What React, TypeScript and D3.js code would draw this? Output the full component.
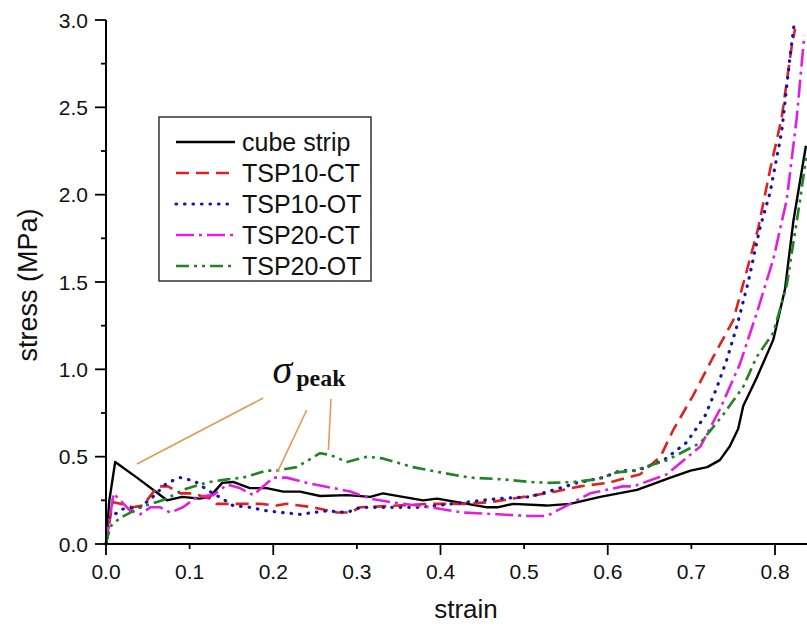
import React from "react";
import * as d3 from "d3";

type Pt = [number, number];

const cubeStrip: Pt[] = [[0,0],[0.004,0.25],[0.011,0.47],[0.037,0.38],[0.073,0.25],[0.091,0.27],[0.112,0.26],[0.124,0.27],[0.139,0.35],[0.152,0.355],[0.172,0.32],[0.192,0.32],[0.212,0.30],[0.232,0.30],[0.256,0.275],[0.288,0.28],[0.316,0.27],[0.331,0.29],[0.379,0.25],[0.396,0.26],[0.456,0.21],[0.468,0.21],[0.487,0.23],[0.527,0.22],[0.555,0.23],[0.591,0.27],[0.635,0.31],[0.675,0.38],[0.699,0.42],[0.719,0.44],[0.734,0.48],[0.746,0.56],[0.756,0.66],[0.762,0.79],[0.778,0.95],[0.798,1.17],[0.812,1.46],[0.822,1.85],[0.837,2.28]];

const tsp10CT: Pt[] = [[0,0],[0.008,0.24],[0.017,0.23],[0.032,0.21],[0.044,0.22],[0.062,0.33],[0.074,0.33],[0.089,0.29],[0.104,0.29],[0.124,0.26],[0.132,0.23],[0.152,0.23],[0.184,0.23],[0.204,0.22],[0.216,0.23],[0.248,0.21],[0.276,0.18],[0.292,0.18],[0.304,0.21],[0.348,0.22],[0.388,0.23],[0.432,0.23],[0.459,0.24],[0.487,0.26],[0.527,0.29],[0.567,0.33],[0.600,0.35],[0.639,0.40],[0.663,0.50],[0.678,0.65],[0.702,0.85],[0.726,1.07],[0.750,1.28],[0.766,1.56],[0.780,1.81],[0.794,2.14],[0.808,2.44],[0.820,2.85],[0.824,2.95]];

const tsp10OT: Pt[] = [[0,0],[0.004,0.15],[0.02,0.2],[0.041,0.21],[0.056,0.27],[0.073,0.35],[0.089,0.38],[0.106,0.36],[0.121,0.31],[0.139,0.26],[0.152,0.22],[0.172,0.21],[0.192,0.19],[0.210,0.18],[0.232,0.17],[0.264,0.19],[0.288,0.18],[0.304,0.21],[0.340,0.21],[0.376,0.21],[0.396,0.22],[0.432,0.24],[0.468,0.26],[0.507,0.27],[0.543,0.32],[0.563,0.35],[0.594,0.38],[0.615,0.42],[0.635,0.42],[0.667,0.48],[0.694,0.58],[0.716,0.73],[0.730,0.89],[0.742,1.05],[0.754,1.24],[0.768,1.50],[0.782,1.81],[0.794,2.01],[0.808,2.36],[0.818,2.79],[0.823,2.98]];

const tsp20CT: Pt[] = [[0,0],[0.009,0.29],[0.029,0.19],[0.041,0.17],[0.053,0.21],[0.065,0.21],[0.077,0.18],[0.092,0.21],[0.109,0.27],[0.128,0.28],[0.145,0.34],[0.160,0.32],[0.176,0.28],[0.200,0.38],[0.216,0.38],[0.240,0.35],[0.272,0.32],[0.292,0.30],[0.316,0.26],[0.340,0.24],[0.388,0.21],[0.427,0.18],[0.468,0.17],[0.507,0.16],[0.527,0.16],[0.547,0.21],[0.579,0.29],[0.618,0.33],[0.631,0.33],[0.671,0.40],[0.711,0.56],[0.734,0.77],[0.758,1.03],[0.778,1.32],[0.798,1.63],[0.814,1.97],[0.826,2.44],[0.835,2.91]];

const tsp20OT: Pt[] = [[0,0],[0.005,0.10],[0.017,0.15],[0.029,0.18],[0.041,0.21],[0.061,0.24],[0.073,0.26],[0.092,0.31],[0.112,0.34],[0.124,0.355],[0.145,0.37],[0.164,0.38],[0.192,0.42],[0.204,0.42],[0.228,0.44],[0.256,0.52],[0.268,0.51],[0.288,0.47],[0.312,0.50],[0.331,0.49],[0.367,0.44],[0.400,0.41],[0.435,0.38],[0.475,0.37],[0.507,0.355],[0.531,0.35],[0.559,0.355],[0.587,0.37],[0.611,0.41],[0.631,0.42],[0.671,0.48],[0.711,0.58],[0.738,0.74],[0.762,0.90],[0.778,1.07],[0.798,1.21],[0.814,1.48],[0.830,1.97],[0.838,2.24]];

const seriesNames = ["cube strip", "TSP10-CT", "TSP10-OT", "TSP20-CT", "TSP20-OT"];
const xTickLabels = ["0.0", "0.1", "0.2", "0.3", "0.4", "0.5", "0.6", "0.7", "0.8"];
const yTickLabels = ["0.0", "0.5", "1.0", "1.5", "2.0", "2.5", "3.0"];

// annotation leader lines in data units [x1,y1,x2,y2]
const peakLeaders: [number, number, number, number][] = [
  [0.188, 0.836, 0.037, 0.458],
  [0.240, 0.767, 0.205, 0.412],
  [0.269, 0.830, 0.266, 0.538],
];
const peakLabelAt: Pt = [0.199, 0.92];

const styles = [
  { color: "#000000", dash: "none", cap: "butt", w: 2.4 },
  { color: "#E3201E", dash: "13,7", cap: "butt", w: 2.6 },
  { color: "#1414B4", dash: "0.5,8", cap: "round", w: 3.2 },
  { color: "#E21FE0", dash: "18,5,3,5", cap: "butt", w: 2.6 },
  { color: "#218321", dash: "13,5,3,5,3,5", cap: "butt", w: 2.6 },
];

export default function App() {
  const W = 807, H = 631;
  const x = d3.scaleLinear().domain([0, 0.8]).range([106, 775]);
  const y = d3.scaleLinear().domain([0, 3]).range([544, 20]);
  const line = d3.line<Pt>().x(d => x(d[0])).y(d => y(d[1]));
  const data = [cubeStrip, tsp10CT, tsp10OT, tsp20CT, tsp20OT];
  const font = "'Liberation Sans', Arial, sans-serif";

  const xMinor = d3.range(0, 9).map(i => i / 10);
  const yMinor = d3.range(0, 13).map(i => i * 0.25);

  return (
    <svg width={W} height={H} style={{ position: "absolute", left: 0, top: 0, background: "#fff" }}>
      <rect width={W} height={H} fill="#fff" />
      {data.map((d, i) => (
        <path key={i} d={line(d) || ""} fill="none" stroke={styles[i].color}
          strokeWidth={styles[i].w} strokeDasharray={styles[i].dash}
          strokeLinecap={styles[i].cap as any} strokeLinejoin="round" />
      ))}
      <line x1={x(0)} y1={y(0)} x2={W} y2={y(0)} stroke="#000" strokeWidth={2} />
      <line x1={x(0)} y1={y(0) + 1} x2={x(0)} y2={y(3)} stroke="#000" strokeWidth={2} />
      {xMinor.map((v, i) => (
        <line key={"xt" + i} x1={x(v)} x2={x(v)} y1={y(0)} y2={y(0) + (i % 2 === 0 ? 11 : 5)} stroke="#000" strokeWidth={1.8} />
      ))}
      {yMinor.map((v, i) => (
        <line key={"yt" + i} x1={x(0)} x2={x(0) - (i % 2 === 0 ? 11 : 5)} y1={y(v)} y2={y(v)} stroke="#000" strokeWidth={1.8} />
      ))}
      {xTickLabels.map((t, i) => (
        <text key={"xl" + i} x={x(+t)} y={579} textAnchor="middle" fontFamily={font} fontSize={21} fill="#111">{t}</text>
      ))}
      {yTickLabels.map((t, i) => (
        <text key={"yl" + i} x={88} y={y(+t)} dy="0.36em" textAnchor="end" fontFamily={font} fontSize={21} fill="#111">{t}</text>
      ))}
      <text x={466} y={618} textAnchor="middle" fontFamily={font} fontSize={26} fill="#111">strain</text>
      <text transform={`translate(37,${285}) rotate(-90)`} textAnchor="middle" fontFamily={font} fontSize={27} fill="#111">stress (MPa)</text>

      <rect x={159} y={117} width={212} height={164} fill="#fff" stroke="#333" strokeWidth={1.5} />
      {seriesNames.map((n, i) => {
        const cy = 142 + i * 31;
        return (
          <g key={"lg" + i}>
            <line x1={176} x2={235} y1={cy} y2={cy} stroke={styles[i].color} strokeWidth={styles[i].w}
              strokeDasharray={styles[i].dash} strokeLinecap={styles[i].cap as any} />
            <text x={242} y={cy} dy="0.36em" fontFamily={font} fontSize={25} fill="#111">{n}</text>
          </g>
        );
      })}

      {peakLeaders.map((l, i) => (
        <line key={"pl" + i} x1={x(l[0])} y1={y(l[1])} x2={x(l[2])} y2={y(l[3])} stroke="#E39B57" strokeWidth={1.6} />
      ))}
      <text x={x(peakLabelAt[0])} y={y(peakLabelAt[1])} fontFamily="'Liberation Serif', 'Times New Roman', serif" fill="#111">
        <tspan fontSize={40} fontStyle="italic">σ</tspan>
        <tspan fontSize={24} fontWeight="bold" dx={4} dy={3}>peak</tspan>
      </text>
    </svg>
  );
}
